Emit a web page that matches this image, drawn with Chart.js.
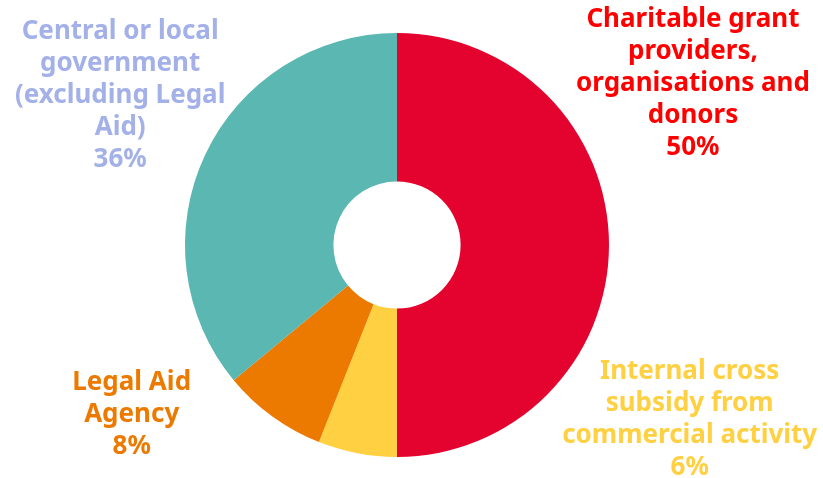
<!DOCTYPE html>
<html>
<head>
<meta charset="utf-8">
<script src="https://cdn.jsdelivr.net/npm/chart.js@4.4.0/dist/chart.umd.min.js"></script>
<style>
  html, body { margin: 0; padding: 0; background: #fff; }
  #wrap { width: 823px; height: 478px; position: relative; }
</style>
</head>
<body>
<div id="wrap"><canvas id="grafica"></canvas></div>
<script>
// Fuentes de financiación (en orden horario desde arriba)
const categorias = [
  ['Charitable grant', 'providers,', 'organisations and', 'donors'],
  ['Internal cross', 'subsidy from', 'commercial activity'],
  ['Legal Aid', 'Agency'],
  ['Central or local', 'government', '(excluding Legal', 'Aid)']
];
const porcentajes = [50, 6, 8, 36];
const coloresSector = ['#E4032E', '#FFD041', '#EC7A00', '#5BB7B1'];
const coloresTexto = ['#FF0000', '#FFD041', '#EC7A00', '#A3B1E8'];

// Posición de cada etiqueta (centro de la primera línea, relativo al lienzo)
const posEtiquetas = [
  { x: 0.842, y: 0.042 },
  { x: 0.838, y: 0.778 },
  { x: 0.160, y: 0.801 },
  { x: 0.146, y: 0.067 }
];

const etiquetasPlugin = {
  id: 'etiquetas',
  afterDraw(chart) {
    const ctx = chart.ctx;
    const alto = 32;
    ctx.save();
    ctx.font = 'bold 26px "Noto Sans", sans-serif';
    ctx.textAlign = 'center';
    ctx.textBaseline = 'middle';
    categorias.forEach((lineas, i) => {
      const p = posEtiquetas[i];
      const cx = p.x * chart.width;
      let cy = p.y * chart.height;
      ctx.fillStyle = coloresTexto[i];
      lineas.concat([porcentajes[i] + '%']).forEach(t => {
        ctx.fillText(t, cx, cy);
        cy += alto;
      });
    });
    ctx.restore();
  }
};

new Chart(document.getElementById('grafica').getContext('2d'), {
  type: 'doughnut',
  data: {
    labels: categorias.map(c => c.join(' ')),
    datasets: [{
      data: porcentajes,
      backgroundColor: coloresSector,
      borderWidth: 0
    }]
  },
  options: {
    responsive: true,
    maintainAspectRatio: false,
    animation: false,
    cutout: '30%',
    layout: { padding: { left: 0, right: 29, top: 33, bottom: 21 } },
    plugins: {
      legend: { display: false },
      tooltip: { enabled: false }
    }
  },
  plugins: [etiquetasPlugin]
});
</script>
</body>
</html>
